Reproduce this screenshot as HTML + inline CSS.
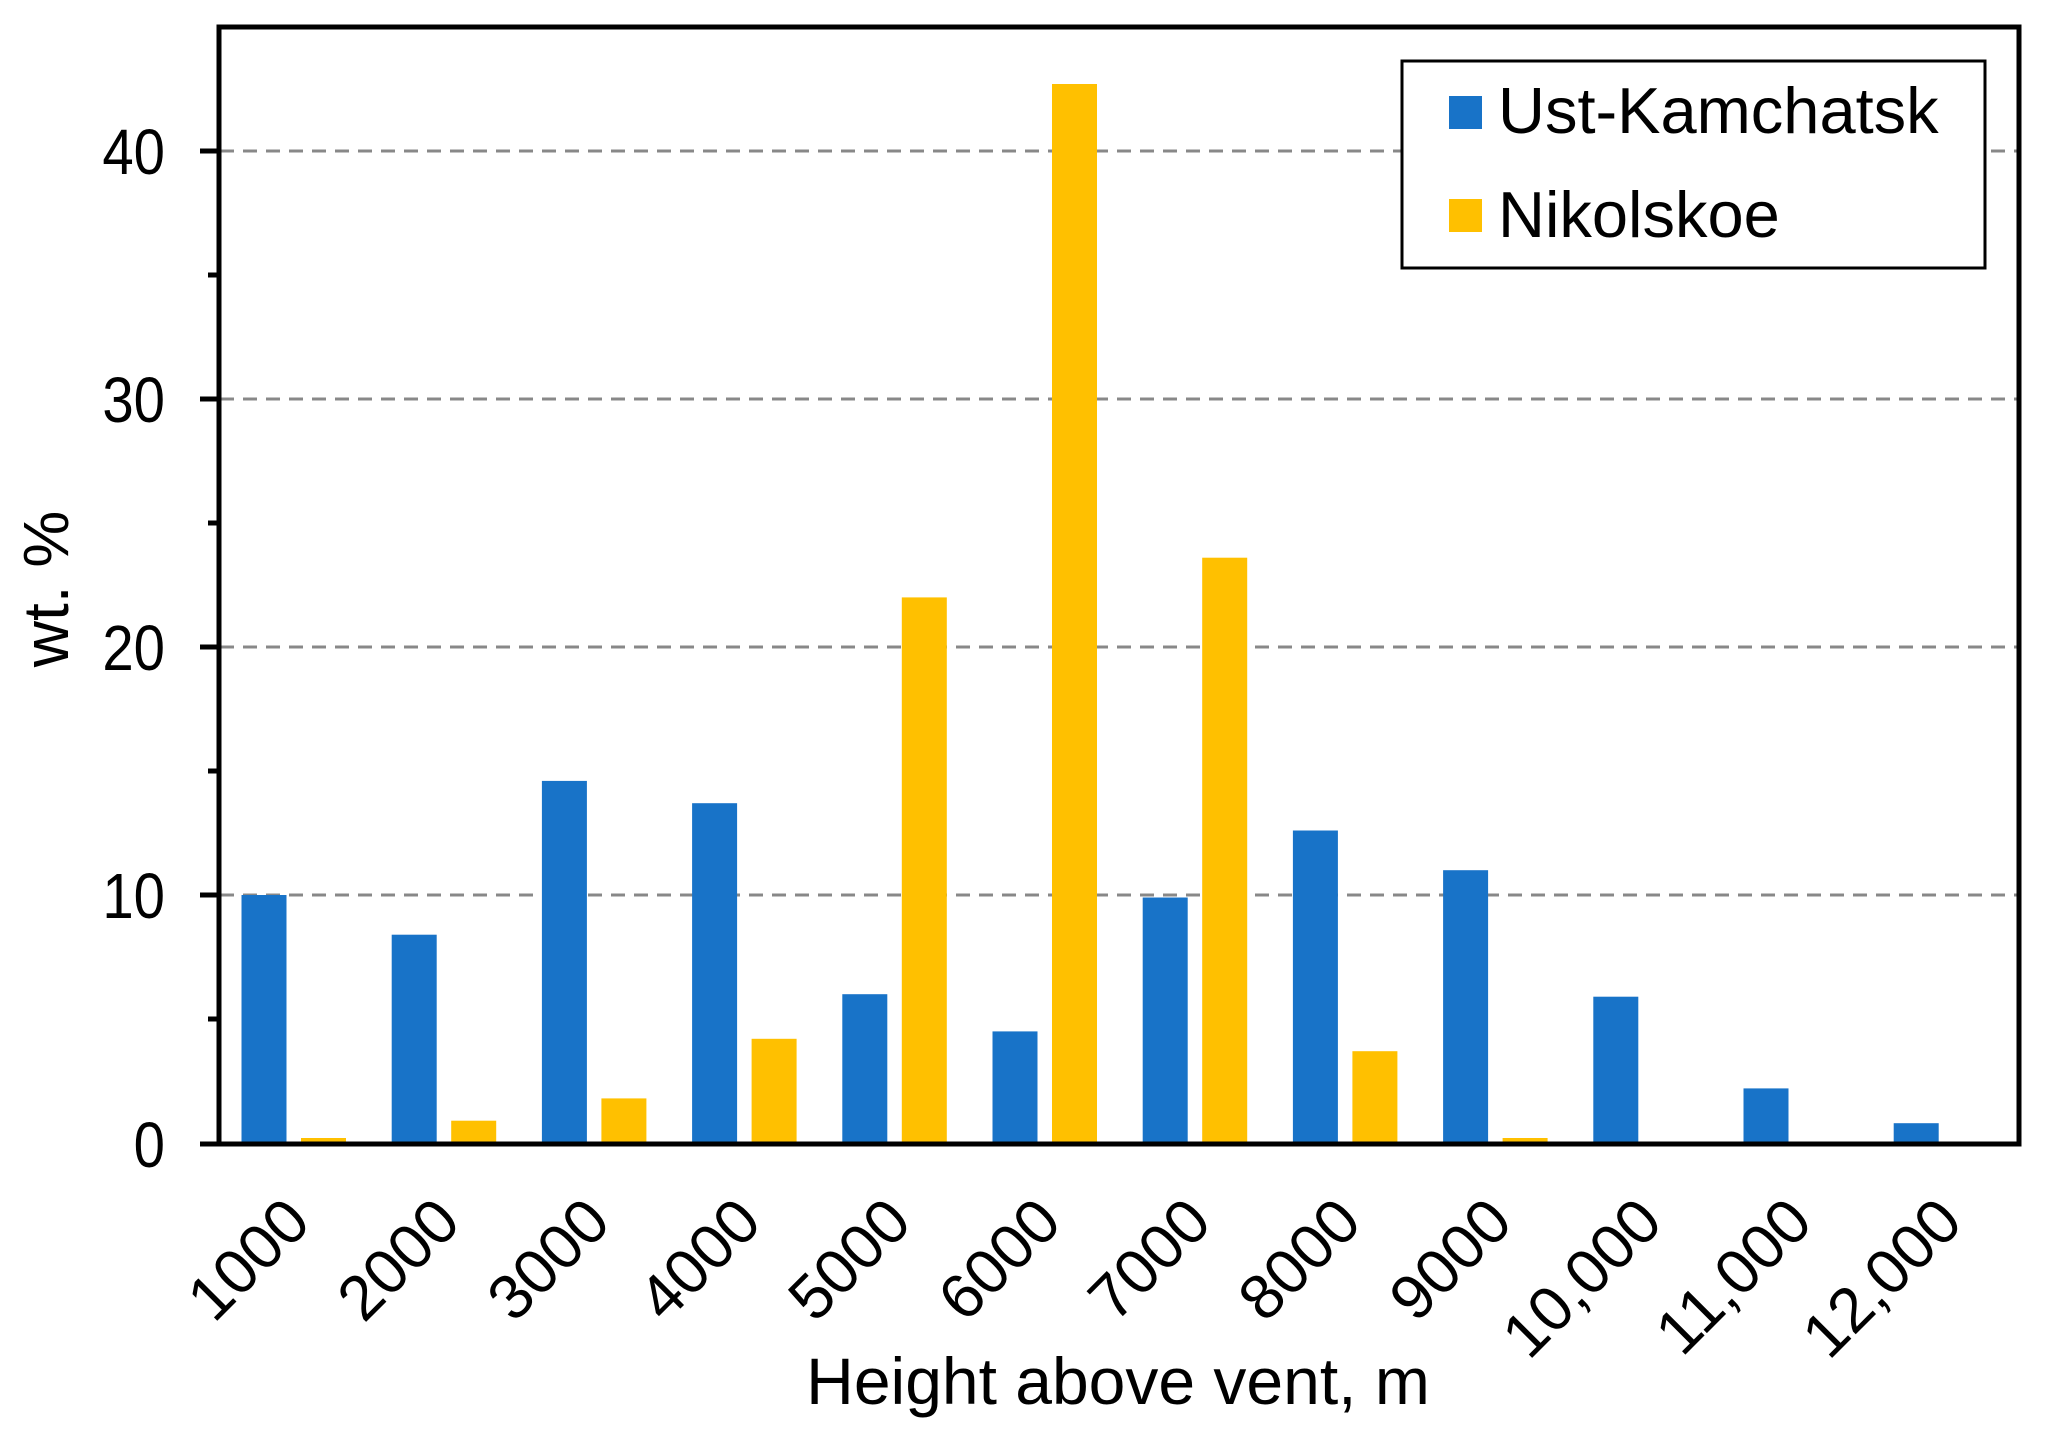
<!DOCTYPE html>
<html><head><meta charset="utf-8"><style>html,body{margin:0;padding:0;background:#fff}svg{display:block}</style></head>
<body>
<svg width="2060" height="1434" viewBox="0 0 2060 1434" xmlns="http://www.w3.org/2000/svg" font-family="Liberation Sans, Arial, sans-serif">
<rect width="2060" height="1434" fill="#fff"/>
<g stroke="#888" stroke-width="3" stroke-dasharray="14,9">
<line x1="220" y1="151" x2="2018" y2="151"/>
<line x1="220" y1="399" x2="2018" y2="399"/>
<line x1="220" y1="647" x2="2018" y2="647"/>
<line x1="220" y1="895" x2="2018" y2="895"/>
</g>
<g fill="#1873c8">
<rect x="241.5" y="895" width="45" height="248"/>
<rect x="391.7" y="934.7" width="45" height="208.3"/>
<rect x="541.9" y="780.9" width="45" height="362.1"/>
<rect x="692.1" y="803.2" width="45" height="339.8"/>
<rect x="842.3" y="994.2" width="45" height="148.8"/>
<rect x="992.5" y="1031.4" width="45" height="111.6"/>
<rect x="1142.7" y="897.5" width="45" height="245.5"/>
<rect x="1292.9" y="830.5" width="45" height="312.5"/>
<rect x="1443.1" y="870.2" width="45" height="272.8"/>
<rect x="1593.3" y="996.7" width="45" height="146.3"/>
<rect x="1743.5" y="1088.4" width="45" height="54.6"/>
<rect x="1893.7" y="1123.2" width="45" height="19.8"/>
</g>
<g fill="#ffc000">
<rect x="301" y="1138" width="45" height="5"/>
<rect x="451.2" y="1120.7" width="45" height="22.3"/>
<rect x="601.4" y="1098.4" width="45" height="44.6"/>
<rect x="751.6" y="1038.8" width="45" height="104.2"/>
<rect x="901.8" y="597.4" width="45" height="545.6"/>
<rect x="1052" y="84" width="45" height="1059"/>
<rect x="1202.2" y="557.7" width="45" height="585.3"/>
<rect x="1352.4" y="1051.2" width="45" height="91.8"/>
<rect x="1502.6" y="1138" width="45" height="5"/>
</g>
<g stroke="#000" fill="none">
<rect x="219" y="27" width="1800" height="1117" stroke-width="5"/>
<g stroke-width="5">
<line x1="200" y1="151" x2="219" y2="151"/>
<line x1="200" y1="399" x2="219" y2="399"/>
<line x1="200" y1="647" x2="219" y2="647"/>
<line x1="200" y1="895" x2="219" y2="895"/>
<line x1="200" y1="1144" x2="219" y2="1144"/>
<line x1="208" y1="275" x2="219" y2="275"/>
<line x1="208" y1="523" x2="219" y2="523"/>
<line x1="208" y1="771" x2="219" y2="771"/>
<line x1="208" y1="1019" x2="219" y2="1019"/>
</g>
</g>
<g font-size="64" text-anchor="end" fill="#000">
<text transform="translate(165,174) scale(0.88,1)">40</text>
<text transform="translate(165,422) scale(0.88,1)">30</text>
<text transform="translate(165,670) scale(0.88,1)">20</text>
<text transform="translate(165,918) scale(0.88,1)">10</text>
<text transform="translate(165,1167) scale(0.88,1)">0</text>
</g>
<text transform="translate(68,589) rotate(-90)" font-size="64" text-anchor="middle">wt. %</text>
<g font-size="63" text-anchor="end" fill="#000">
<text transform="translate(313,1225) rotate(-45)">1000</text>
<text transform="translate(463,1225) rotate(-45)">2000</text>
<text transform="translate(613,1225) rotate(-45)">3000</text>
<text transform="translate(764,1225) rotate(-45)">4000</text>
<text transform="translate(914,1225) rotate(-45)">5000</text>
<text transform="translate(1064,1225) rotate(-45)">6000</text>
<text transform="translate(1214,1225) rotate(-45)">7000</text>
<text transform="translate(1364,1225) rotate(-45)">8000</text>
<text transform="translate(1515,1225) rotate(-45)">9000</text>
<text transform="translate(1665,1225) rotate(-45)">10,000</text>
<text transform="translate(1815,1225) rotate(-45)">11,000</text>
<text transform="translate(1965,1225) rotate(-45)">12,000</text>
</g>
<text x="1118" y="1404" font-size="66" text-anchor="middle">Height above vent, m</text>
<rect x="1402" y="61" width="583" height="207" fill="#fff" stroke="#000" stroke-width="3"/>
<rect x="1449" y="96" width="33" height="33" fill="#1873c8"/>
<rect x="1449" y="199" width="33" height="33" fill="#ffc000"/>
<text x="1498" y="133" font-size="65">Ust-Kamchatsk</text>
<text x="1498" y="237" font-size="65">Nikolskoe</text>
</svg>
</body></html>
